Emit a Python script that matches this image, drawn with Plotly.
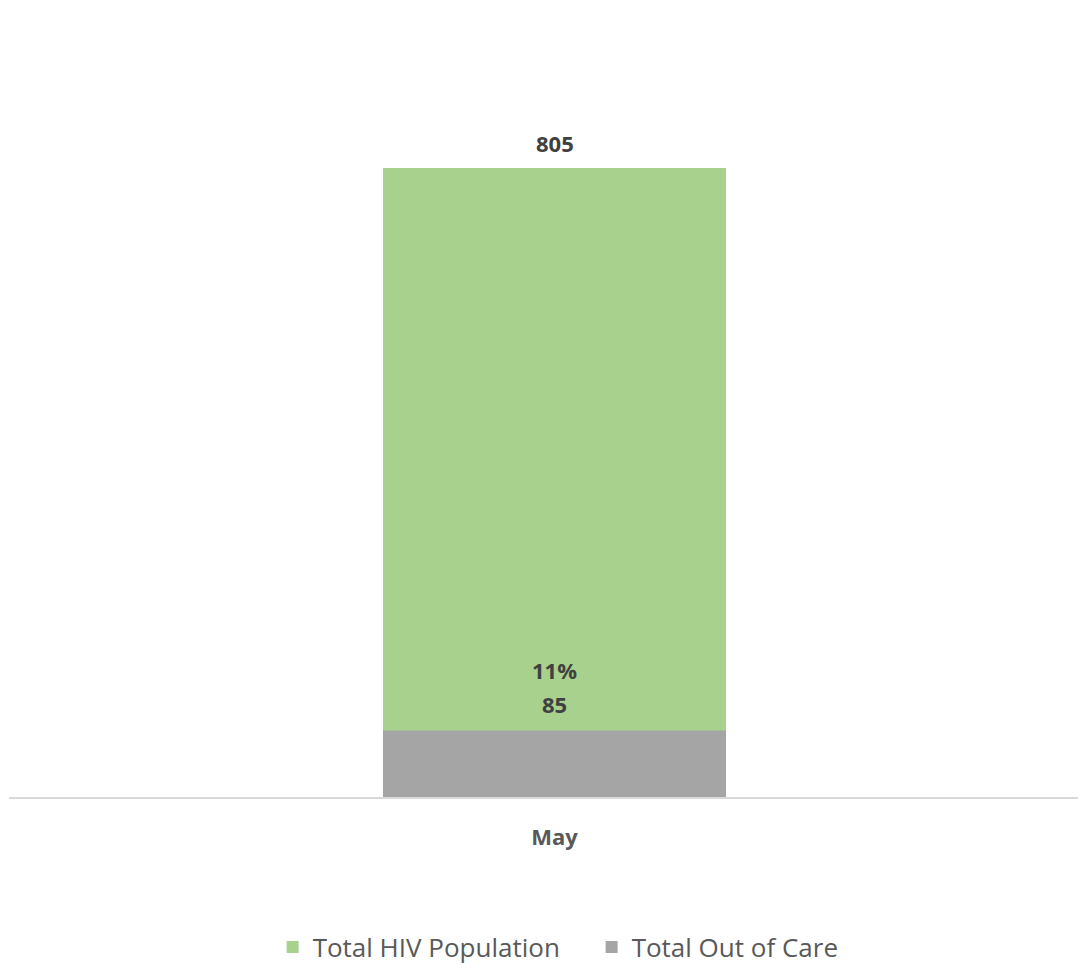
import plotly.graph_objects as go

categories = ["May"]
total_hiv = [805]
out_of_care = [85]
pct_out = ["11%"]

GREEN = "#A9D18E"
GRAY = "#A5A5A5"
FONT = "Open Sans"
LABEL = "#404040"

fig = go.Figure()
fig.add_trace(go.Bar(x=categories, y=total_hiv, name="Total HIV Population",
                     marker=dict(color=GREEN, line=dict(width=0)), width=0.3185,
                     hoverinfo="skip"))
fig.add_trace(go.Bar(x=categories, y=out_of_care, name="Total Out of Care",
                     marker=dict(color=GRAY, line=dict(width=0)), width=0.3185,
                     hoverinfo="skip"))

for c, v in zip(categories, total_hiv):
    fig.add_annotation(x=c, y=v, text=f"<b>{v}</b>", showarrow=False,
                       yanchor="middle", yshift=25,
                       font=dict(family=FONT, size=22, color=LABEL))
for c, v, p in zip(categories, out_of_care, pct_out):
    fig.add_annotation(x=c, y=v, text=f"<b>{v}</b>", showarrow=False,
                       yanchor="middle", yshift=27,
                       font=dict(family=FONT, size=22, color=LABEL))
    fig.add_annotation(x=c, y=v, text=f"<b>{p}</b>", showarrow=False,
                       yanchor="middle", yshift=61,
                       font=dict(family=FONT, size=22, color=LABEL))

fig.update_layout(
    width=1078, height=957,
    barmode="overlay",
    paper_bgcolor="white", plot_bgcolor="white",
    margin=dict(l=1, r=0, t=92, b=168, pad=0),
    font=dict(family=FONT, size=22, color="#595959"),
    xaxis=dict(range=[-0.5065, 0.4935], showline=True, linecolor="#D9D9D9", linewidth=1.5,
               ticks="", tickfont=dict(family=FONT, size=22, color="#595959"),
               showgrid=False, zeroline=False, ticklabelstandoff=20),
    yaxis=dict(range=[0, 892], visible=False, showgrid=False, zeroline=False),
    legend=dict(orientation="h", xref="container", yref="container",
                x=0.5414, xanchor="center", y=0.0188, yanchor="middle",
                font=dict(family=FONT, size=26, color="#595959"),
                itemwidth=30, traceorder="normal", entrywidth=274),
    showlegend=True,
)
fig.update_xaxes(tickprefix="<b>", ticksuffix="</b>")

fig.write_html("out.html")
